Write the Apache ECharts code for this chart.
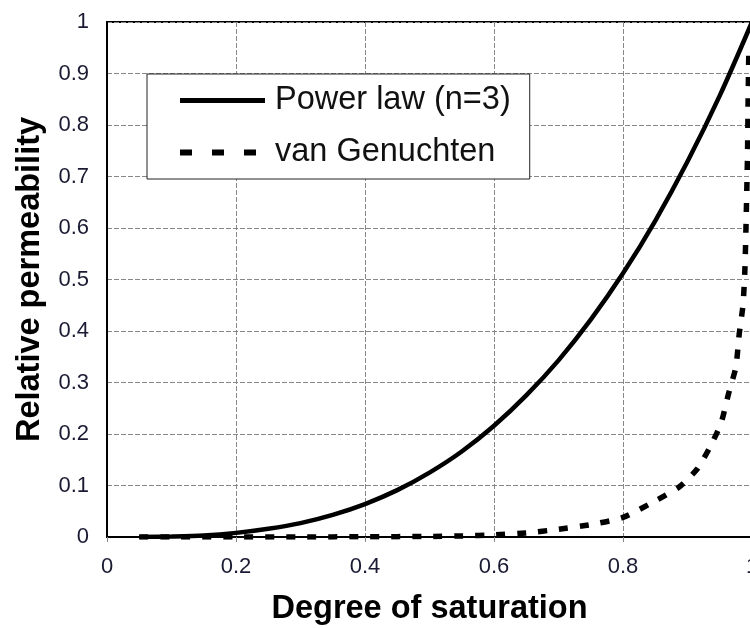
<!DOCTYPE html>
<html>
<head>
<meta charset="utf-8">
<script src="https://cdn.jsdelivr.net/npm/echarts@6/dist/echarts.min.js"></script>
<style>
html,body{margin:0;padding:0;background:#fff;}
#c{width:750px;height:628px;}
</style>
</head>
<body>
<div id="c"></div>
<script>
// Data
const powerLawX = [0.05, 0.1, 0.15, 0.2, 0.25, 0.3, 0.35, 0.4, 0.45, 0.5, 0.55, 0.6, 0.65, 0.7, 0.75, 0.8, 0.85, 0.9, 0.95, 1.0];
const powerLawY = [0.0001, 0.001, 0.003, 0.008, 0.016, 0.027, 0.043, 0.064, 0.091, 0.125, 0.166, 0.216, 0.275, 0.343, 0.422, 0.512, 0.614, 0.729, 0.857, 1.0];
const vgX = [0.05, 0.1, 0.2, 0.3, 0.4, 0.5, 0.55, 0.6, 0.65, 0.7, 0.75, 0.8, 0.853, 0.887, 0.915, 0.935, 0.952, 0.964, 0.975, 0.980, 0.986, 0.989, 0.991, 0.993, 0.994, 0.995];
const vgY = [0.0, 0.0, 0.0, 0.0, 0.0005, 0.001, 0.002, 0.004, 0.008, 0.015, 0.024, 0.038, 0.072, 0.097, 0.132, 0.175, 0.221, 0.28, 0.33, 0.392, 0.45, 0.52, 0.62, 0.74, 0.85, 0.94];
const seriesNames = ['Power law (n=3)', 'van Genuchten'];
const xTicks = { min: 0, max: 1, interval: 0.2 };
const yTicks = { min: 0, max: 1, interval: 0.1 };
const xTitle = 'Degree of saturation';
const yTitle = 'Relative permeability';

const pair = (xs, ys) => xs.map((x, i) => [x, ys[i]]);
const FONT = '"Liberation Sans", Arial, sans-serif';
const chart = echarts.init(document.getElementById('c'), null, { renderer: 'canvas' });
chart.setOption({
  animation: false,
  backgroundColor: '#fff',
  grid: { left: 107, top: 22, width: 645, height: 515, show: true, borderColor: '#000', borderWidth: 2, backgroundColor: 'transparent', outerBoundsMode: 'none', containLabel: false },
  legend: {
    orient: 'vertical',
    left: 147, top: 74,
    padding: [10, 19, 10, 30],
    itemWidth: 85, itemHeight: 14, itemGap: 19,
    backgroundColor: '#fff',
    borderColor: '#222', borderWidth: 1,
    itemStyle: { opacity: 0 },
    textStyle: { fontFamily: FONT, fontSize: 32.5, color: '#111', padding: [0, 0, 0, 5] },
    data: [
      { name: seriesNames[0], lineStyle: { width: 5, type: 'solid' } },
      { name: seriesNames[1], lineStyle: { width: 6, type: [12, 20] } }
    ]
  },
  xAxis: {
    type: 'value', min: xTicks.min, max: xTicks.max, interval: xTicks.interval,
    name: xTitle, nameLocation: 'middle', nameGap: 56,
    nameTextStyle: { fontFamily: FONT, fontSize: 32.5, fontWeight: 'bold', color: '#000' },
    axisLine: { lineStyle: { color: '#000', width: 2 } },
    axisTick: { show: true, length: 5, lineStyle: { color: '#888' } },
    axisLabel: { fontFamily: FONT, fontSize: 22, color: '#1a1a33', margin: 19 },
    splitLine: { show: true, lineStyle: { color: '#888', width: 1, type: [5, 2] } }
  },
  yAxis: {
    type: 'value', min: yTicks.min, max: yTicks.max, interval: yTicks.interval,
    name: yTitle, nameLocation: 'middle', nameGap: 60, nameRotate: 90,
    nameTextStyle: { fontFamily: FONT, fontSize: 32.5, fontWeight: 'bold', color: '#000' },
    axisLine: { show: true, lineStyle: { color: '#000', width: 2 } },
    axisTick: { show: false },
    axisLabel: { fontFamily: FONT, fontSize: 22, color: '#1a1a33', margin: 18 },
    splitLine: { show: true, lineStyle: { color: '#888', width: 1, type: [5, 2] } }
  },
  series: [
    {
      name: seriesNames[0], type: 'line', data: pair(powerLawX, powerLawY),
      smooth: 0.3, symbol: 'none', showSymbol: false, clip: true,
      lineStyle: { color: '#000', width: 4.5 }, itemStyle: { color: '#000' }, z: 3
    },
    {
      name: seriesNames[1], type: 'line', data: pair(vgX, vgY),
      smooth: 0.2, symbol: 'none', showSymbol: false, clip: true,
      lineStyle: { color: '#000', width: 5.5, type: [9, 12] }, itemStyle: { color: '#000' }, z: 2
    }
  ]
});
</script>
</body>
</html>
